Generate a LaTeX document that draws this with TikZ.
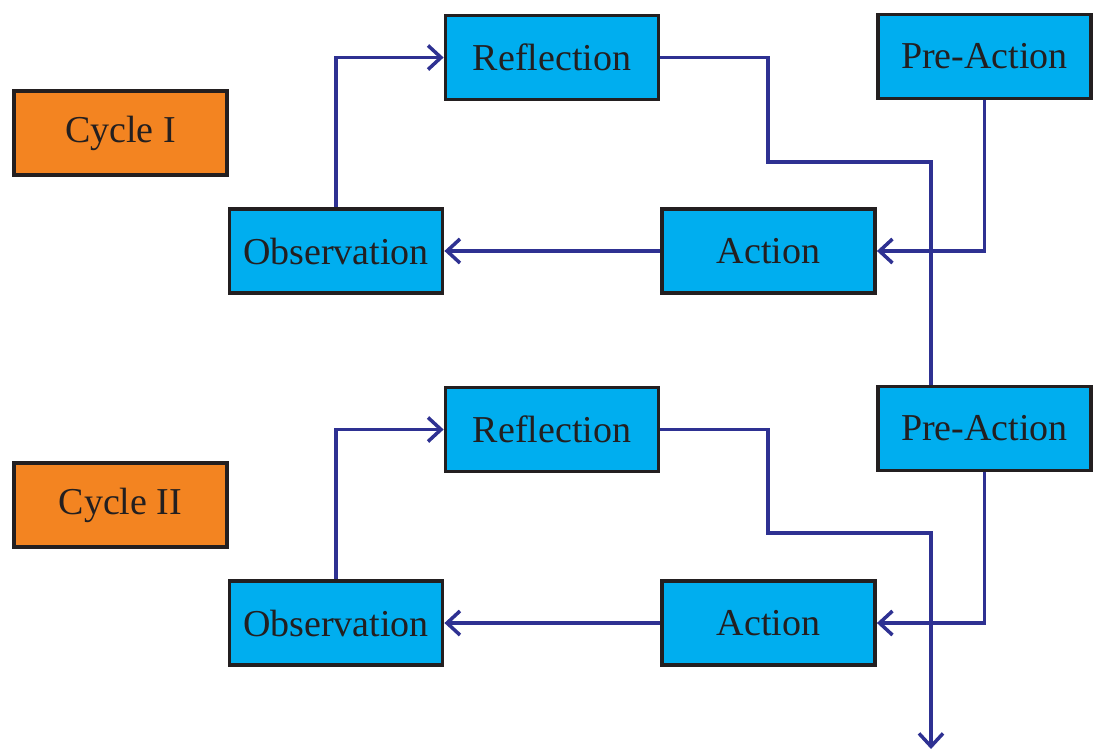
\documentclass[tikz,border=0pt]{standalone}
\usepackage{fontspec}
\setmainfont{Liberation Serif}
\usetikzlibrary{arrows.meta}
\definecolor{boxblue}{HTML}{00AEEF}
\definecolor{boxorange}{HTML}{F38421}
\definecolor{edge}{HTML}{231F20}
\definecolor{linkblue}{HTML}{2E3192}
\tikzset{
  stagebox/.style={draw=edge, line width=3.8pt, fill=boxblue, minimum width=213pt, minimum height=84pt, inner sep=0pt, font=\fontsize{38}{42}\selectfont, text=edge},
  cyclebox/.style={stagebox, fill=boxorange},
  link/.style={draw=linkblue, line width=3.5pt},
  linkarrow/.style={link, -{Straight Barb[length=13pt,width=24pt,line width=3.5pt]}}
}
\begin{document}
\begin{tikzpicture}[x=1pt,y=-1pt]
\useasboundingbox (0,0) rectangle (1099,753);
% Cycle I
\node[cyclebox] (cyc1) at (120.5,133) {Cycle I};
\node[stagebox] (refl1) at (552,57.5) {Reflection};
\node[stagebox] (pre1) at (984.5,56.5) {Pre-Action};
\node[stagebox] (obs1) at (336,251) {Observation};
\node[stagebox] (act1) at (768.5,251) {Action};
% Cycle II
\node[cyclebox] (cyc2) at (120.5,505) {Cycle II};
\node[stagebox] (refl2) at (552,429.5) {Reflection};
\node[stagebox] (pre2) at (984.5,428.5) {Pre-Action};
\node[stagebox] (obs2) at (336,623) {Observation};
\node[stagebox] (act2) at (768.5,623) {Action};
\coordinate (xcol) at (931,0);
\coordinate (endpt) at (931,749);
% connectors cycle I
\draw[linkarrow] (obs1.north) |- (refl1.west);
\draw[linkarrow] (pre1.south) |- (act1.east);
\draw[linkarrow] (act1.west) -- (obs1.east);
\draw[link] (refl1.east) -- (768,57.5) -- (768,162) -- (931,162) -- (pre2.north -| xcol);
% connectors cycle II
\draw[linkarrow] (obs2.north) |- (refl2.west);
\draw[linkarrow] (pre2.south) |- (act2.east);
\draw[linkarrow] (act2.west) -- (obs2.east);
\draw[linkarrow] (refl2.east) -- (768,429.5) -- (768,533) -- (931,533) -- (endpt);
\end{tikzpicture}
\end{document}
